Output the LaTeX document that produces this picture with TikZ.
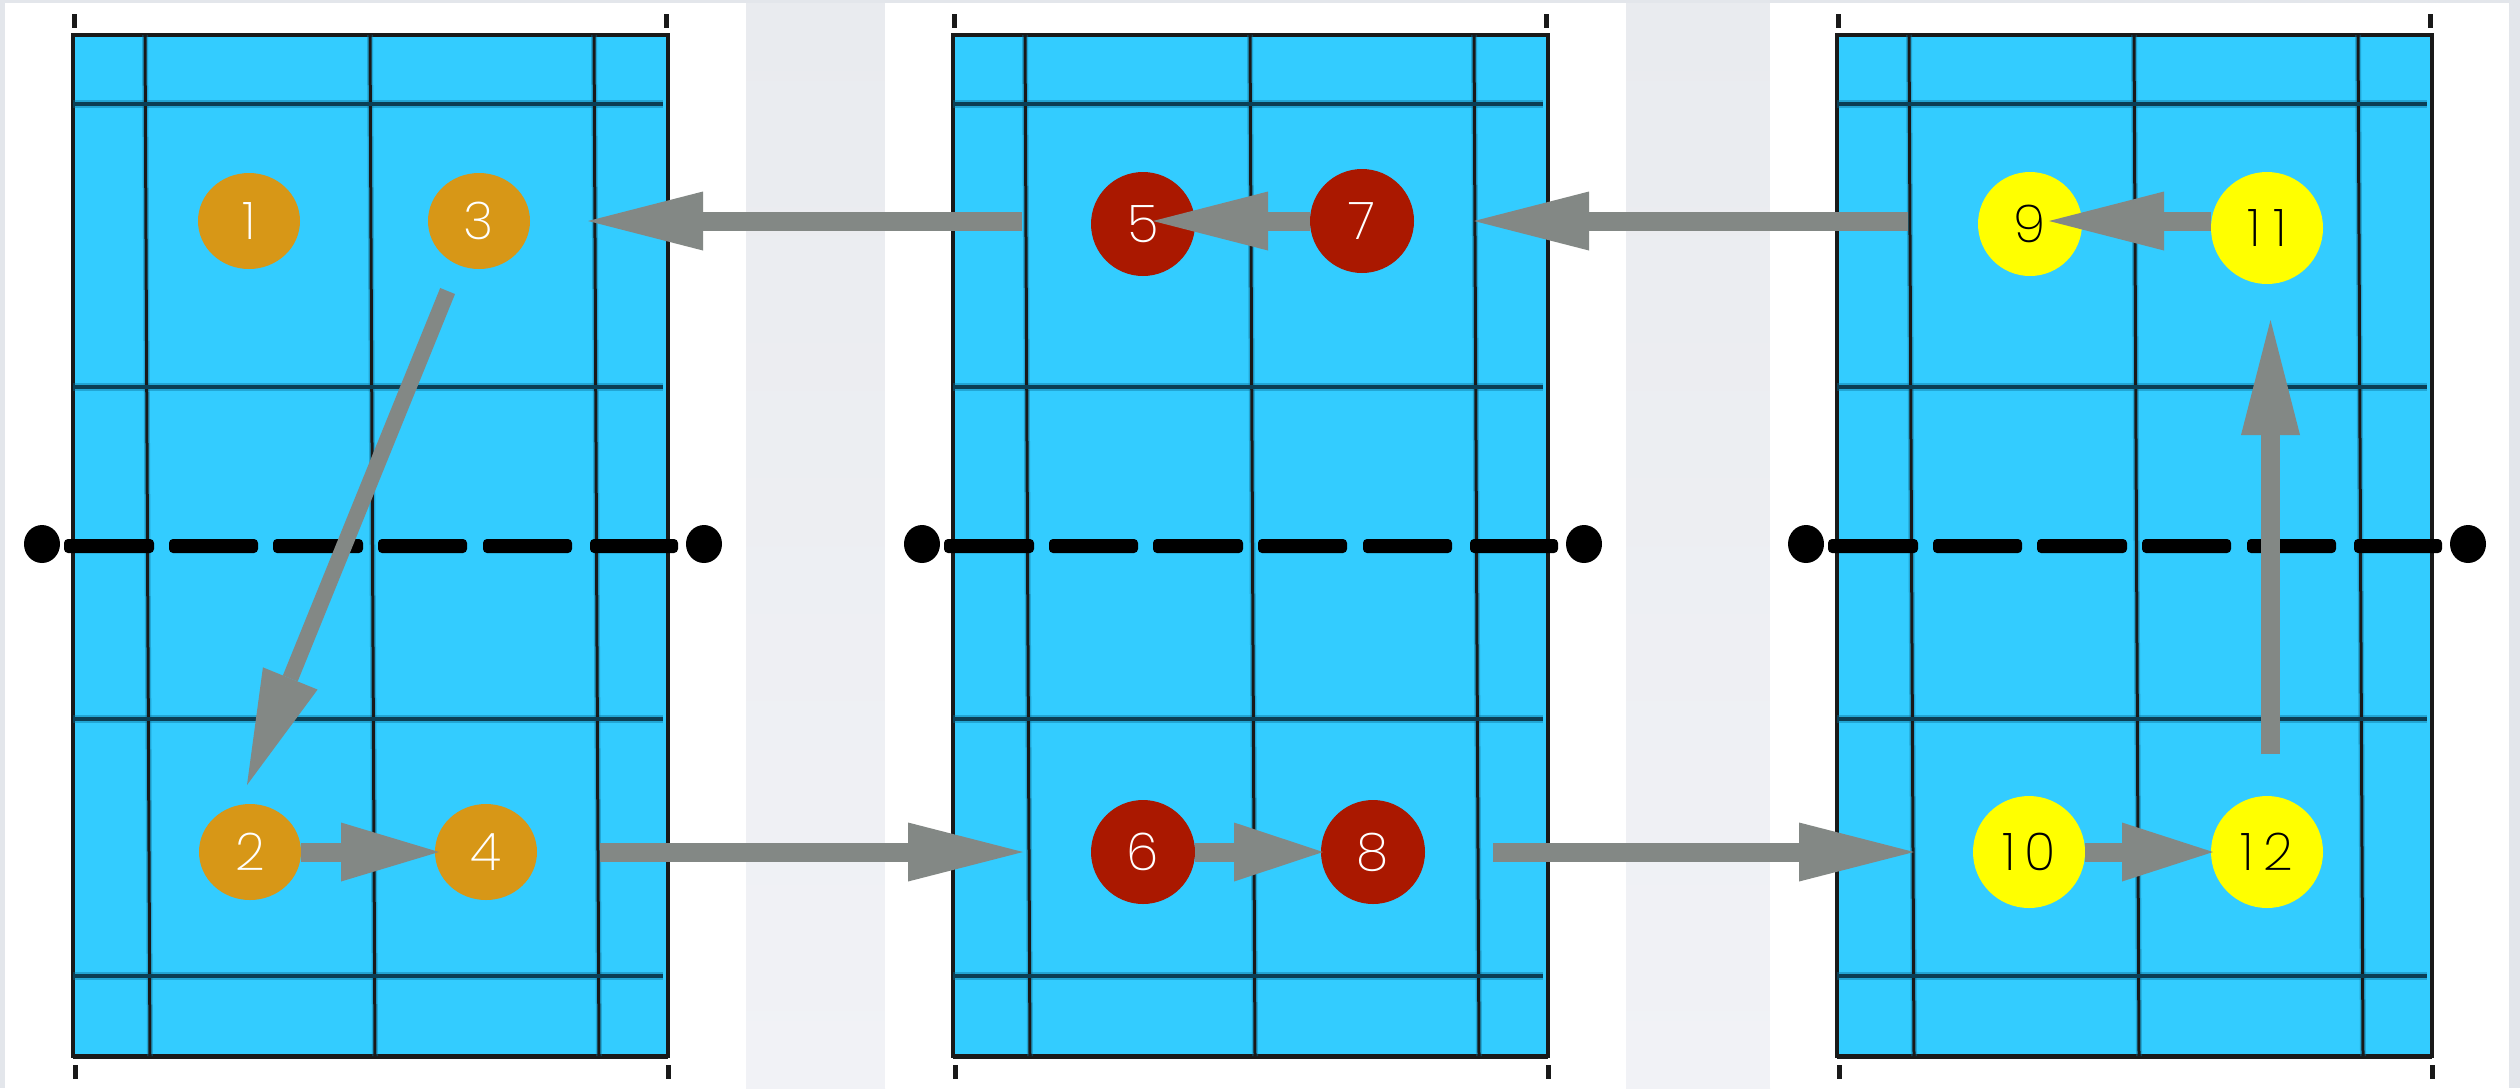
\documentclass[tikz,border=0pt]{standalone}
\usepackage{fontspec}
\setmainfont{Poppins ExtraLight}
\usetikzlibrary{arrows.meta,shapes.geometric}
\definecolor{bgedge}{HTML}{E3E6EB}
\definecolor{gaptop}{HTML}{E9EBEF}
\definecolor{gapbot}{HTML}{F1F2F6}
\definecolor{courtblue}{HTML}{33CCFF}
\definecolor{orangedot}{HTML}{D79717}
\definecolor{reddot}{HTML}{AA1800}
\definecolor{yellowdot}{HTML}{FFFF00}
\definecolor{arrowgrey}{HTML}{838885}
\definecolor{hline}{HTML}{0B3F55}
\definecolor{halo}{HTML}{0A6E96}
\tikzset{
  courtbox/.style={fill=courtblue,draw=black!90,line width=4pt,line join=miter},
  vhalo/.style={draw=halo,opacity=.4,line width=6pt},
  vline/.style={draw=black!90,line width=3pt},
  hhalo/.style={draw=halo,opacity=.4,line width=8pt},
  hlinestyle/.style={draw=hline,line width=4pt},
  netdash/.style={fill=black,rounded corners=4pt},
  tickmark/.style={draw=black!90,line width=5pt},
  post/.style={fill=black,ellipse,minimum width=36pt,minimum height=38pt,inner sep=0pt},
  dot/.style={ellipse,inner sep=0pt,font=\fontsize{52}{52}\selectfont,minimum width=#1*2pt},
  od/.style={dot=51,minimum height=96pt,fill=orangedot,text=white},
  rd/.style={dot=52,minimum height=104pt,fill=reddot,text=white},
  yd/.style={dot=52,minimum height=104pt,fill=yellowdot,text=black},
  ydl/.style={dot=56,minimum height=112pt,fill=yellowdot,text=black},
  gaparrow/.style={draw=arrowgrey,line width=19pt,-{Triangle[length=#1,width=59pt,line width=0pt,fill=arrowgrey]}},
  bigarrow/.style={gaparrow=115pt},
}
\newcommand{\courtpanel}[1]{%
  \begin{scope}[xshift=#1pt]
    \draw[courtbox] (72.5,35) rectangle (668,1056);
    \draw[draw=black!90,line width=3pt] (72.5,1057) -- (668,1057);
    \draw[vhalo] (145,35) -- (150,1056);
    \draw[vhalo] (370,35) -- (375,1056);
    \draw[vhalo] (594,35) -- (599,1056);
    \foreach \y in {104,386.5,719,976} \draw[hhalo] (73,\y) -- (663,\y);
    \draw[vline] (145,35) -- (150,1056);
    \draw[vline] (370,35) -- (375,1056);
    \draw[vline] (594,35) -- (599,1056);
    \foreach \y in {104,386.5,719,976} \draw[hlinestyle] (73,\y) -- (663,\y);
    \foreach \a/\b in {64/154,169/258,273/363,378/467,483/572,590/678} \fill[netdash] (\a,539) rectangle (\b,553);
    \node[post] (pl#1) at (42,544) {};
    \node[post] (pr#1) at (704,544) {};
    \draw[tickmark] (74.5,14) -- (74.5,28);
    \draw[tickmark] (666,14) -- (666,28);
    \draw[tickmark] (75,1065) -- (75,1079);
    \draw[tickmark] (668,1065) -- (668,1079);
  \end{scope}}
\begin{document}
\begin{tikzpicture}[x=1pt,y=-1pt]
  \useasboundingbox (0,0) rectangle (2520,1088);
  \fill[bgedge] (0,0) rectangle (2520,1088);
  \shade[top color=gaptop,bottom color=gapbot] (746,3) rectangle (885,1088);
  \shade[top color=gaptop,bottom color=gapbot] (1626,3) rectangle (1770,1088);
  \fill[white] (5,3) rectangle (746,1088);
  \fill[white] (885,3) rectangle (1626,1088);
  \fill[white] (1770,3) rectangle (2509,1088);
  \courtpanel{0}
  \courtpanel{880}
  \courtpanel{1764}
  % dots
  \node[od] (n1) at (249,221) {1};
  \node[od] (n3) at (479,221) {3};
  \node[od] (n2) at (250,852) {2};
  \node[od] (n4) at (486,852) {4};
  \node[rd] (n5) at (1143,224) {5};
  \node[rd] (n7) at (1362,221) {7};
  \node[rd] (n6) at (1143,852) {6};
  \node[rd] (n8) at (1373,852) {8};
  \node[yd] (n9) at (2030,224) {9};
  \node[ydl] (n11) at (2267,228) {1\kern13pt 1};
  \node[ydl] (n10) at (2029,852) {1\kern9pt 0};
  \node[ydl] (n12) at (2267,852) {1\kern9pt 2};
  % free ends
  \coordinate (a1s) at (1022,221);
  \coordinate (a1e) at (588,221);
  \coordinate (a2s) at (1908,221);
  \coordinate (a2e) at (1474,221);
  \coordinate (a3s) at (447.6,291);
  \coordinate (a3e) at (247,785);
  \coordinate (a4s) at (600,852);
  \coordinate (a4e) at (1023,852);
  \coordinate (a5s) at (1493,852);
  \coordinate (a5e) at (1914,852);
  \coordinate (a6s) at (2270.5,754);
  \coordinate (a6e) at (2270.5,320);
  \coordinate (t75) at (1153,221);
  \coordinate (t119) at (2049,221);
  \coordinate (t24) at (439,852);
  \coordinate (t68) at (1323,852);
  \coordinate (t1012) at (2213,852);
  % arrows
  \draw[bigarrow] (a1s) -- (a1e);
  \draw[bigarrow] (a2s) -- (a2e);
  \draw[bigarrow,line width=16pt] (a3s) -- (a3e);
  \draw[bigarrow] (a4s) -- (a4e);
  \draw[bigarrow] (a5s) -- (a5e);
  \draw[bigarrow,line width=19pt] (a6s) -- (a6e);
  \draw[bigarrow] (n7.west |- t75) -- (t75);
  \draw[bigarrow] (n11.west |- t119) -- (t119);
  \draw[gaparrow=98pt] (n2.east) -- (t24);
  \draw[gaparrow=89pt] (n6.east) -- (t68);
  \draw[gaparrow=91pt] (n10.east) -- (t1012);
\end{tikzpicture}
\end{document}
